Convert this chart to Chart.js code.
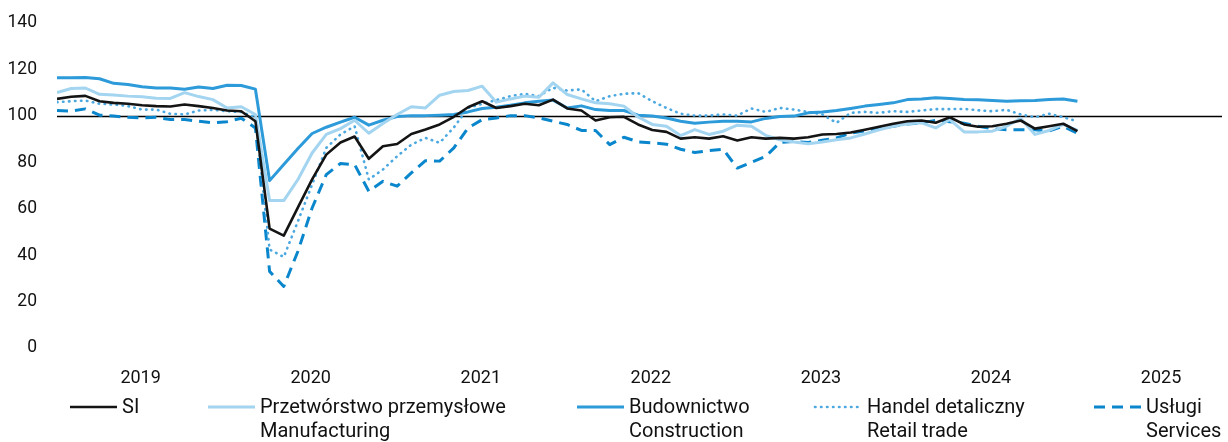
<!DOCTYPE html>
<html>
<head>
<meta charset="utf-8">
<script src="https://cdn.jsdelivr.net/npm/chart.js@4.4.1/dist/chart.umd.min.js"></script>
<style>
  html, body { margin: 0; padding: 0; background: #ffffff; }
  #wrap { width: 1228px; height: 442px; position: relative; }
</style>
</head>
<body>
<div id="wrap"><canvas id="c" width="1228" height="442"></canvas></div>
<script>
// Monthly observations, January 2019 to January 2025
const months = [
  '2019-01','2019-02','2019-03','2019-04','2019-05','2019-06','2019-07','2019-08','2019-09','2019-10','2019-11','2019-12',
  '2020-01','2020-02','2020-03','2020-04','2020-05','2020-06','2020-07','2020-08','2020-09','2020-10','2020-11','2020-12',
  '2021-01','2021-02','2021-03','2021-04','2021-05','2021-06','2021-07','2021-08','2021-09','2021-10','2021-11','2021-12',
  '2022-01','2022-02','2022-03','2022-04','2022-05','2022-06','2022-07','2022-08','2022-09','2022-10','2022-11','2022-12',
  '2023-01','2023-02','2023-03','2023-04','2023-05','2023-06','2023-07','2023-08','2023-09','2023-10','2023-11','2023-12',
  '2024-01','2024-02','2024-03','2024-04','2024-05','2024-06','2024-07','2024-08','2024-09','2024-10','2024-11','2024-12',
  '2025-01'
];

const yearLabels = ['2019', '2020', '2021', '2022', '2023', '2024', '2025'];
const yTicks = [0, 20, 40, 60, 80, 100, 120, 140];
const referenceLevel = 100;

// Sentiment indicator (SI)
const si = [
  107.3,108.2,108.6,106.3,105.6,105.2,104.6,104.2,104.0,104.9,104.2,103.4,
  102.3,102.0,97.7,51.4,48.4,60.6,72.6,83.3,88.5,91.1,81.5,86.9,
  87.9,92.2,94.1,96.3,99.6,103.7,106.3,103.4,104.2,105.2,104.6,107.0,
  103.2,102.3,98.0,99.4,99.6,96.3,93.9,93.1,90.2,90.8,90.2,91.2,
  89.4,90.8,90.2,90.5,90.2,90.8,92.0,92.2,92.8,94.0,95.3,96.6,
  97.7,98.0,97.0,99.4,96.3,95.3,95.5,96.6,98.0,94.5,95.5,96.6,
  93.4
];

// Przetwórstwo przemysłowe / Manufacturing
const manufacturing = [
  110.0,111.8,112.0,109.3,109.0,108.5,108.2,107.6,107.5,110.0,108.3,107.0,
  103.4,103.9,100.6,63.5,63.5,72.6,84.0,92.0,94.5,98.1,92.5,96.7,
  100.6,103.9,103.4,108.9,110.5,110.9,112.8,105.9,107.3,108.5,108.0,114.2,
  109.2,107.3,105.6,105.2,104.2,99.5,96.3,95.5,91.5,94.1,92.0,93.4,
  96.0,95.5,91.6,89.7,88.7,88.0,88.7,89.7,90.5,92.2,94.0,95.5,
  96.6,97.0,94.8,98.4,93.1,93.1,93.4,95.5,98.9,92.0,93.7,96.3,
  93.7
];

// Budownictwo / Construction
const construction = [
  116.4,116.4,116.5,116.0,114.0,113.5,112.5,112.0,112.0,111.5,112.4,111.8,
  113.2,113.1,111.5,72.1,79.0,85.9,92.4,95.1,97.3,99.4,96.0,98.1,
  99.7,100.1,100.1,100.3,100.6,101.7,103.2,103.7,104.6,105.6,106.3,106.8,
  103.4,104.3,102.7,102.3,102.3,100.3,99.9,99.1,97.7,96.8,97.3,97.7,
  97.7,97.4,98.9,99.7,99.9,101.3,101.7,102.3,103.2,104.2,104.9,105.6,
  107.0,107.3,107.8,107.5,107.0,106.9,106.6,106.3,106.5,106.6,107.0,107.3,
  106.3
];

// Handel detaliczny / Retail trade
const retail = [
  105.9,106.3,106.6,105.2,104.9,104.2,102.7,102.7,100.9,100.6,102.3,102.6,
  102.0,101.7,99.4,42.4,39.2,54.6,70.4,86.2,92.0,95.5,72.6,76.9,
  82.6,87.6,90.5,88.4,95.0,103.4,105.2,106.8,108.5,109.5,108.5,112.1,
  110.9,111.4,106.3,108.5,109.5,109.8,106.3,103.4,100.9,100.1,100.1,100.6,
  100.1,103.2,101.7,103.4,102.7,101.7,100.6,97.0,101.3,101.7,101.3,102.0,
  101.7,102.3,102.9,102.9,103.0,102.4,102.0,102.6,100.6,99.4,100.9,99.4,
  97.7
];

// Usługi / Services
const services = [
  102.3,102.0,103.0,100.3,99.9,99.4,99.1,99.4,98.4,98.4,97.7,97.0,
  97.5,99.0,94.8,33.0,26.5,41.7,60.3,74.7,79.5,79.0,67.5,71.8,
  69.7,75.4,80.7,80.5,86.2,94.8,98.4,99.1,100.1,100.1,99.1,97.7,
  96.3,93.7,93.7,87.6,90.8,88.8,88.4,87.8,85.6,84.2,85.0,85.6,
  77.5,80.0,82.5,88.5,89.0,88.5,89.5,90.5,92.5,93.5,94.5,95.5,
  96.5,97.0,98.0,97.5,96.8,95.5,94.5,94.0,94.0,94.0,93.5,95.5,
  92.5
];

// Two-line legend captions (Polish / English)
const legendNames = [
  ['SI'],
  ['Przetwórstwo przemysłowe', 'Manufacturing'],
  ['Budownictwo', 'Construction'],
  ['Handel detaliczny', 'Retail trade'],
  ['Usługi', 'Services']
];

const FAMILY = 'Roboto, "Liberation Sans", sans-serif';
const TEXT = '#111111';

const toPoints = arr => arr.map((v, i) => ({ x: i, y: v }));

// Horizontal reference line at 100
const referenceLine = {
  id: 'referenceLine',
  beforeDatasetsDraw(chart) {
    const { ctx, chartArea } = chart;
    const y = Math.round(chart.scales.y.getPixelForValue(referenceLevel)) + 0.5;
    ctx.save();
    ctx.strokeStyle = '#000000';
    ctx.lineWidth = 1.5;
    ctx.beginPath();
    ctx.moveTo(chartArea.left, y);
    ctx.lineTo(chartArea.right, y);
    ctx.stroke();
    ctx.restore();
  }
};

// Legend drawn below the axis with two-line captions
const twoLineLegend = {
  id: 'twoLineLegend',
  afterDraw(chart, args, opts) {
    const { ctx } = chart;
    ctx.save();
    ctx.font = opts.fontSize + 'px ' + FAMILY;
    ctx.fillStyle = TEXT;
    ctx.textBaseline = 'middle';
    ctx.textAlign = 'left';
    chart.data.datasets.forEach((ds, i) => {
      const x0 = opts.starts[i];
      const y = opts.row1;
      ctx.save();
      ctx.strokeStyle = ds.borderColor;
      ctx.lineWidth = ds.borderWidth;
      ctx.lineCap = ds.borderCapStyle || 'butt';
      ctx.setLineDash(ds.borderDash || []);
      ctx.beginPath();
      ctx.moveTo(x0, y - 1);
      ctx.lineTo(x0 + opts.sample, y - 1);
      ctx.stroke();
      ctx.restore();
      legendNames[i].forEach((line, k) => {
        ctx.fillText(line, x0 + opts.sample + opts.gap, y + k * opts.lineHeight);
      });
    });
    ctx.restore();
  }
};

const lineStyle = (label, data, color, width, extra) => Object.assign({
  label, data: toPoints(data),
  borderColor: color, backgroundColor: color,
  borderWidth: width, pointRadius: 0, pointHoverRadius: 0,
  tension: 0, fill: false, borderJoinStyle: 'round'
}, extra || {});

new Chart(document.getElementById('c'), {
  type: 'line',
  data: {
    datasets: [
      lineStyle('SI', si, '#141414', 2.6),
      lineStyle('Przetwórstwo przemysłowe / Manufacturing', manufacturing, '#a3d4f0', 3),
      lineStyle('Budownictwo / Construction', construction, '#2d9ad9', 3),
      lineStyle('Handel detaliczny / Retail trade', retail, '#4ba8e0', 2.6,
        { borderDash: [0.5, 5.5], borderCapStyle: 'round' }),
      lineStyle('Usługi / Services', services, '#0a86cc', 3,
        { borderDash: [11, 7] })
    ]
  },
  options: {
    responsive: false,
    animation: false,
    devicePixelRatio: 1,
    layout: { padding: { left: 0, right: 6, top: 23, bottom: 52 } },
    plugins: {
      legend: { display: false },
      tooltip: { enabled: false },
      twoLineLegend: { starts: [70, 208, 577, 815, 1094], row1: 408, lineHeight: 23.5, sample: 47, gap: 5, fontSize: 20 }
    },
    scales: {
      x: {
        type: 'linear',
        min: 0,
        max: 82.2,
        grid: { display: false, drawTicks: false },
        border: { display: false },
        afterFit: s => { s.height = 42; },
        afterBuildTicks: s => { s.ticks = yearLabels.map((_, k) => ({ value: 12 * k + 5.9 })); },
        ticks: {
          autoSkip: false, maxRotation: 0, padding: 20,
          color: TEXT, font: { family: FAMILY, size: 18 },
          callback: (v, idx) => yearLabels[idx]
        }
      },
      y: {
        min: 0,
        max: 140,
        grid: { display: false, drawTicks: false },
        border: { display: false },
        afterFit: s => { s.width = 57; s.paddingTop = 10; s.paddingBottom = 10; },
        afterBuildTicks: s => { s.ticks = yTicks.map(v => ({ value: v })); },
        ticks: { padding: 20, color: TEXT, font: { family: FAMILY, size: 17.5 } }
      }
    }
  },
  plugins: [referenceLine, twoLineLegend]
});
</script>
</body>
</html>
